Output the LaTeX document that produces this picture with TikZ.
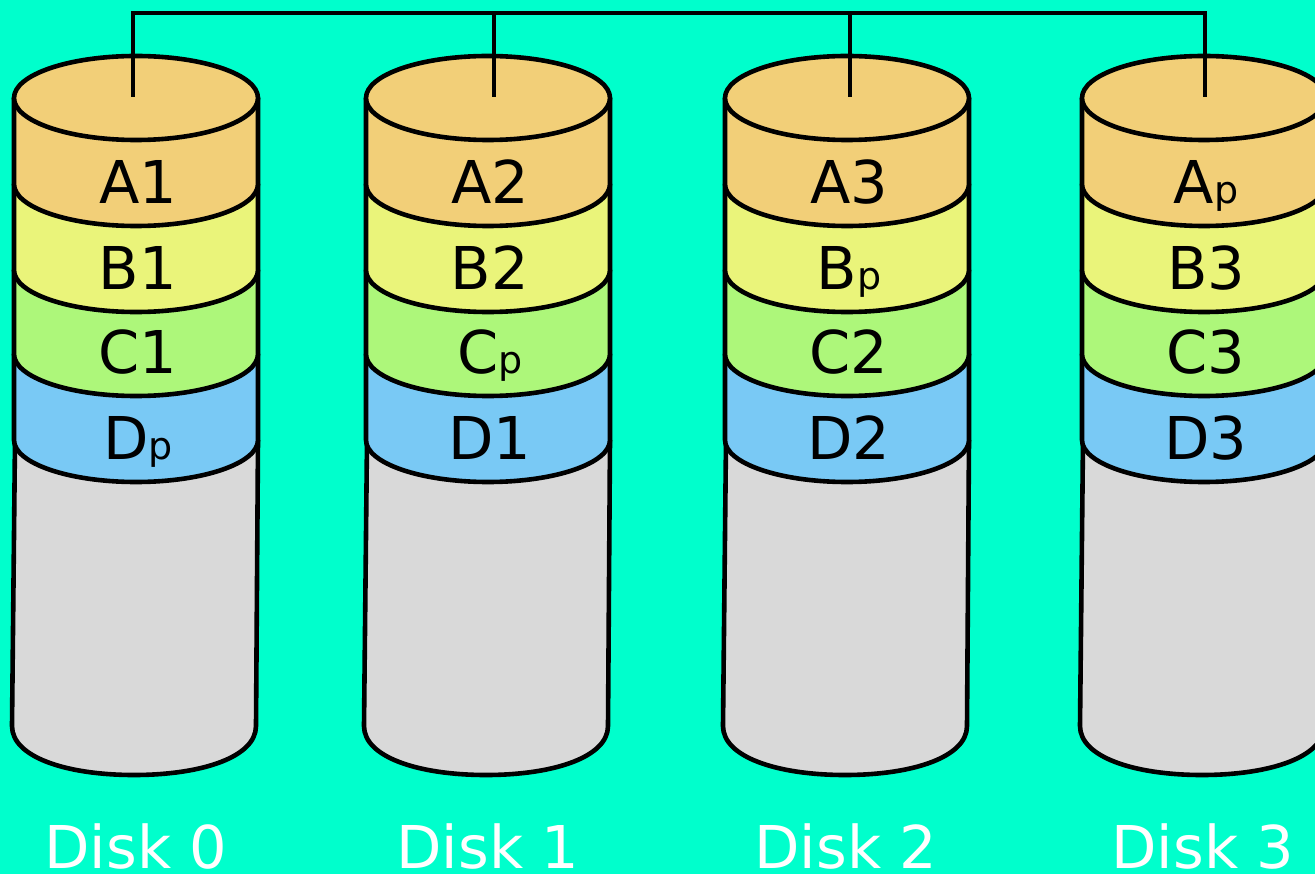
\documentclass[tikz,border=0pt]{standalone}
\usepackage{fontspec}
\setmainfont{DejaVu Sans}
\definecolor{bgc}{HTML}{00FFCC}
\definecolor{bandA}{HTML}{F2CF78}
\definecolor{bandB}{HTML}{EAF47A}
\definecolor{bandC}{HTML}{ADF77A}
\definecolor{bandD}{HTML}{79C9F5}
\definecolor{bandE}{HTML}{D9D9D9}
\newcommand{\bigtxt}{\fontsize{59}{59}\selectfont}
\newcommand{\subp}{{\fontsize{38}{38}\selectfont p}}
\tikzset{
  outline/.style={draw=black,line width=4.6pt,line join=round},
  wire/.style={draw=black,line width=4.6pt,line join=miter},
  bandtext/.style={anchor=base,inner sep=0pt,font=\bigtxt,text=black},
  disklabel/.style={anchor=base,inner sep=0pt,font=\bigtxt,text=white}
}
% #1 left x, #2 fill, #3 centre y of the lower arc, #4 top y
\newcommand{\band}[4]{%
  \path[outline,fill=#2] (#1,#4) -- (#1,#3)
    arc[start angle=180,end angle=0,x radius=122,y radius=42]
    -- ({#1+244},#4);}
% #1 left x, #2 index, #3 text centre x, #4-#7 band labels, #8 label x
\newcommand{\disk}[8]{%
  \path[outline,fill=bandE] ({#1+1},440) -- ({#1-2},726)
    .. controls ({#1-2},757) and ({#1+52},775) .. ({#1+120},775)
    .. controls ({#1+188},775) and ({#1+242},757) .. ({#1+242},726)
    -- ({#1+244},440);
  \band{#1}{bandD}{440}{354}
  \band{#1}{bandC}{354}{270}
  \band{#1}{bandB}{270}{184}
  \band{#1}{bandA}{184}{98}
  \path[outline,fill=bandA] ({#1+122},98) ellipse[x radius=122,y radius=42];
  \node[bandtext] (a#2) at (#3,204) {#4};
  \node[bandtext] (b#2) at (#3,290) {#5};
  \node[bandtext] (c#2) at (#3,374) {#6};
  \node[bandtext] (d#2) at (#3,460) {#7};
  \node[disklabel] (label#2) at (#8,868) {Disk #2};
}
\begin{document}
\begin{tikzpicture}[x=1pt,y=-1pt]
  \useasboundingbox (0,0) rectangle (1315,874);
  \clip (0,0) rectangle (1315,874);
  \fill[bgc] (0,0) rectangle (1315,874);
  \disk{14}{0}{138}{A1}{B1}{C1}{D\subp}{136}
  \disk{366}{1}{490}{A2}{B2}{C\subp}{D1}{488}
  \disk{725}{2}{849}{A3}{B\subp}{C2}{D2}{846}
  \disk{1082}{3}{1206}{A\subp}{B3}{C3}{D3}{1203}
  \coordinate (p0) at (133,97);
  \coordinate (p1) at (494,97);
  \coordinate (p2) at (850,97);
  \coordinate (p3) at (1205,97);
  \coordinate (bus0) at (133,13);
  \coordinate (bus3) at (1205,13);
  \draw[wire] (p0) -- (bus0) -- (bus3) -- (p3);
  \draw[wire] (p1) -- (p1 |- bus0);
  \draw[wire] (p2) -- (p2 |- bus0);
\end{tikzpicture}
\end{document}
